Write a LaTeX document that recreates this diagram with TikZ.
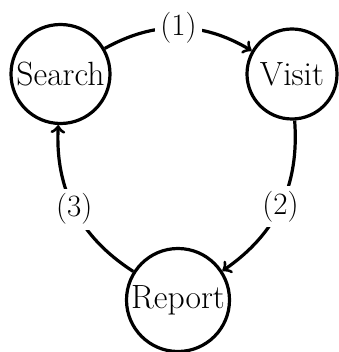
\documentclass[tikz,border=0pt]{standalone}
\usetikzlibrary{arrows}
\begin{document}
\begin{tikzpicture}[x=0.5pt,y=-0.5pt,
  state/.style={circle,draw,line width=1.6pt,inner sep=0pt,font=\fontsize{16.8}{20}\selectfont},
  edge/.style={->,line width=1.6pt},
  lbl/.style={fill=white,inner sep=2.5pt,font=\fontsize{15.5}{19}\selectfont}]
\useasboundingbox (0,0) rectangle (338,352);
\node[state,minimum size=49.5pt] (s) at (60.5,74) {Search};
\node[state,minimum size=45pt] (v) at (292,74) {Visit};
\node[state,minimum size=51.5pt] (r) at (178,300) {Report};
\draw[edge] (s) to[bend left=30] node[lbl]{(1)} (v);
\draw[edge] (v) to[bend left=30] node[lbl]{(2)} (r);
\draw[edge] (r) to[bend left=30] node[lbl]{(3)} (s);
\end{tikzpicture}
\end{document}
